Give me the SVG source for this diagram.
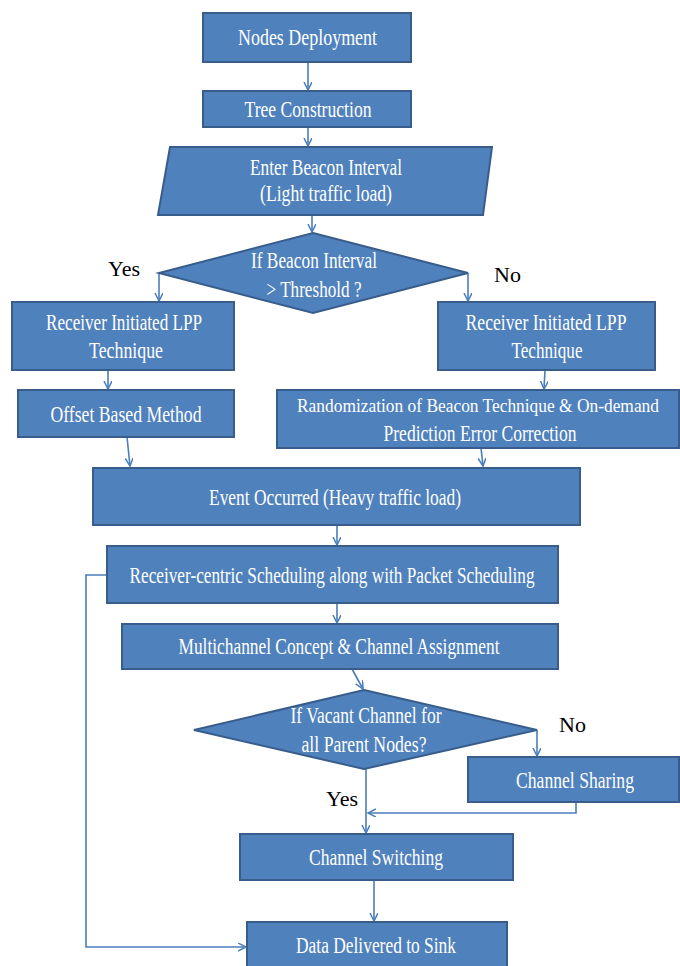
<svg xmlns="http://www.w3.org/2000/svg" width="680" height="966" viewBox="0 0 680 966">
<defs>
<marker id="arr" markerWidth="10" markerHeight="10" refX="8" refY="4" orient="auto" markerUnits="userSpaceOnUse">
<path d="M0,0 L8,4 L0,8" fill="none" stroke="#4A7EBB" stroke-width="1.5"/>
</marker>
<style>
.box{fill:#4F81BD;stroke:#385D8A;stroke-width:2}
.t{font-family:"Liberation Serif","Times New Roman",serif;font-size:23px;fill:#ffffff;text-anchor:middle}
.lbl{font-family:"Liberation Serif","Times New Roman",serif;font-size:22px;fill:#000000}
.c{fill:none;stroke:#4A7EBB;stroke-width:1.6}
</style>
</defs>
<rect width="680" height="966" fill="#ffffff"/>
<g id="connectors">
<line class="c" x1="308" y1="62" x2="308" y2="90" marker-end="url(#arr)"/>
<line class="c" x1="308" y1="127" x2="308" y2="146" marker-end="url(#arr)"/>
<line class="c" x1="312" y1="215" x2="312" y2="232" marker-end="url(#arr)"/>
<line class="c" x1="159" y1="273" x2="159" y2="301" marker-end="url(#arr)"/>
<line class="c" x1="468" y1="273" x2="468" y2="301" marker-end="url(#arr)"/>
<line class="c" x1="108" y1="370" x2="108" y2="389" marker-end="url(#arr)"/>
<line class="c" x1="545" y1="370" x2="544" y2="389" marker-end="url(#arr)"/>
<line class="c" x1="127" y1="437" x2="130" y2="466" marker-end="url(#arr)"/>
<line class="c" x1="481" y1="448" x2="483" y2="466" marker-end="url(#arr)"/>
<line class="c" x1="337" y1="525" x2="337" y2="545" marker-end="url(#arr)"/>
<line class="c" x1="337" y1="603" x2="337" y2="623" marker-end="url(#arr)"/>
<line class="c" x1="352" y1="669" x2="363" y2="689" marker-end="url(#arr)"/>
<line class="c" x1="537" y1="730" x2="537" y2="756" marker-end="url(#arr)"/>
<line class="c" x1="366" y1="769" x2="366" y2="833" marker-end="url(#arr)"/>
<polyline class="c" points="576,802 576,813 368,813" marker-end="url(#arr)"/>
<line class="c" x1="374" y1="880" x2="374" y2="921" marker-end="url(#arr)"/>
<polyline class="c" points="107,575 86,575 86,947 246,947" marker-end="url(#arr)"/>
</g>
<g id="nodes-deployment">
<rect class="box" x="203" y="13" width="208" height="49"/>
<text class="t" x="307.5" y="45" textLength="139" lengthAdjust="spacingAndGlyphs">Nodes Deployment</text>
</g>
<g id="tree-construction">
<rect class="box" x="203" y="91" width="208" height="36"/>
<text class="t" x="308" y="117" textLength="127" lengthAdjust="spacingAndGlyphs">Tree Construction</text>
</g>
<g id="enter-beacon">
<polygon class="box" points="170,147 492,147 483,215 158,215"/>
<text class="t" x="326" y="175" textLength="152" lengthAdjust="spacingAndGlyphs">Enter Beacon Interval</text>
<text class="t" x="326" y="201" textLength="132" lengthAdjust="spacingAndGlyphs">(Light traffic load)</text>
</g>
<g id="decision-beacon">
<polygon class="box" points="313,233 468,273 313,313 159,273"/>
<text class="t" x="314" y="268" textLength="126" lengthAdjust="spacingAndGlyphs">If Beacon Interval</text>
<text class="t" x="314" y="297" textLength="95" lengthAdjust="spacingAndGlyphs">&gt; Threshold ?</text>
</g>
<g id="label-yes-1"><text class="lbl" x="108" y="276">Yes</text></g>
<g id="label-no-1"><text class="lbl" x="494" y="282">No</text></g>
<g id="receiver-left">
<rect class="box" x="12" y="302" width="222" height="68"/>
<text class="t" x="124" y="330" textLength="156" lengthAdjust="spacingAndGlyphs">Receiver Initiated LPP</text>
<text class="t" x="126" y="358" textLength="74" lengthAdjust="spacingAndGlyphs">Technique</text>
</g>
<g id="receiver-right">
<rect class="box" x="438" y="302" width="217" height="68"/>
<text class="t" x="546" y="330" textLength="161" lengthAdjust="spacingAndGlyphs">Receiver Initiated LPP</text>
<text class="t" x="547" y="358" textLength="71" lengthAdjust="spacingAndGlyphs">Technique</text>
</g>
<g id="offset-based">
<rect class="box" x="18" y="390" width="216" height="47"/>
<text class="t" x="126" y="422" textLength="151" lengthAdjust="spacingAndGlyphs">Offset Based Method</text>
</g>
<g id="randomization">
<rect class="box" x="277" y="390" width="402" height="58"/>
<text class="t" x="478" y="412" style="font-size:19px" textLength="362" lengthAdjust="spacingAndGlyphs">Randomization of Beacon Technique &amp; On-demand</text>
<text class="t" x="480" y="441" textLength="193" lengthAdjust="spacingAndGlyphs">Prediction Error Correction</text>
</g>
<g id="event-occurred">
<rect class="box" x="93" y="468" width="487" height="57"/>
<text class="t" x="335" y="505" textLength="252" lengthAdjust="spacingAndGlyphs">Event Occurred (Heavy traffic load)</text>
</g>
<g id="receiver-centric">
<rect class="box" x="107" y="546" width="451" height="57"/>
<text class="t" x="332" y="583" textLength="405" lengthAdjust="spacingAndGlyphs">Receiver-centric Scheduling along with Packet Scheduling</text>
</g>
<g id="multichannel">
<rect class="box" x="122" y="624" width="436" height="45"/>
<text class="t" x="339" y="654" textLength="321" lengthAdjust="spacingAndGlyphs">Multichannel Concept &amp; Channel Assignment</text>
</g>
<g id="decision-vacant">
<polygon class="box" points="364,690 537,730 364,769 194,730"/>
<text class="t" x="366" y="723" textLength="151" lengthAdjust="spacingAndGlyphs">If Vacant Channel for</text>
<text class="t" x="364" y="752" textLength="125" lengthAdjust="spacingAndGlyphs">all Parent Nodes?</text>
</g>
<g id="label-no-2"><text class="lbl" x="559" y="732">No</text></g>
<g id="label-yes-2"><text class="lbl" x="326" y="806">Yes</text></g>
<g id="channel-sharing">
<rect class="box" x="468" y="757" width="211" height="45"/>
<text class="t" x="575" y="788" textLength="118" lengthAdjust="spacingAndGlyphs">Channel Sharing</text>
</g>
<g id="channel-switching">
<rect class="box" x="240" y="834" width="273" height="46"/>
<text class="t" x="376" y="865" textLength="134" lengthAdjust="spacingAndGlyphs">Channel Switching</text>
</g>
<g id="data-delivered">
<rect class="box" x="247" y="922" width="260" height="52"/>
<text class="t" x="376" y="953" textLength="160" lengthAdjust="spacingAndGlyphs">Data Delivered to Sink</text>
</g>
</svg>
